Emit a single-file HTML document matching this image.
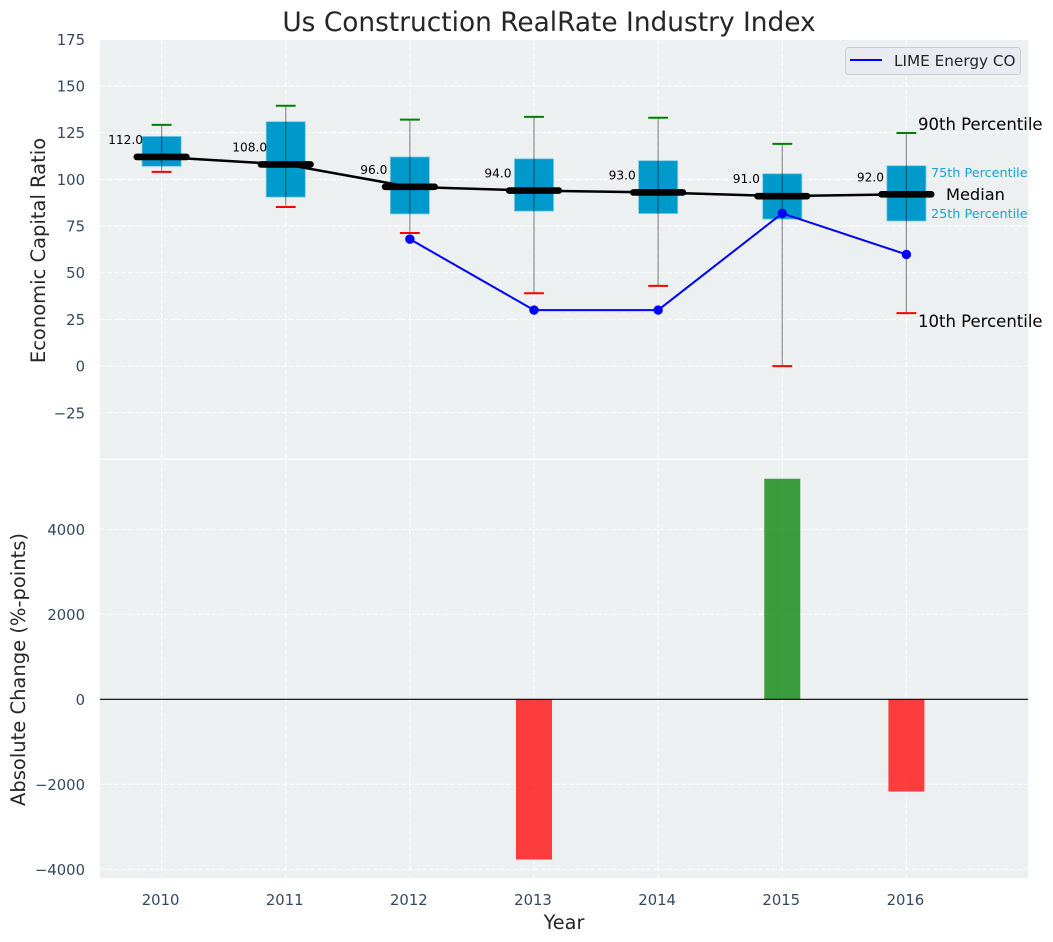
<!DOCTYPE html>
<html lang="en">
<head>
<meta charset="utf-8">
<title>Us Construction RealRate Industry Index</title>
<style>
html,body{margin:0;padding:0;background:#fff;}
svg{display:block;font-family:"DejaVu Sans","Liberation Sans",sans-serif;}
</style>
</head>
<body>
<svg id="chart" xmlns="http://www.w3.org/2000/svg" width="1053" height="942" viewBox="0 0 1053 942">
  <rect x="100" y="40" width="928" height="418.5" fill="#ECF0F1"/>
  <rect x="100" y="460" width="928" height="418" fill="#ECF0F1"/>
  <g id="grid"></g>
  <g id="marks"></g>
  <g id="ticks" font-size="14.8" fill="#34495E"></g>
  <text x="549" y="31" font-size="26.4" fill="#262626" text-anchor="middle">Us Construction RealRate Industry Index</text>
  <text transform="translate(45,250.5) rotate(-90)" font-size="19.5" fill="#262626" text-anchor="middle">Economic Capital Ratio</text>
  <text transform="translate(25,669.5) rotate(-90)" font-size="19.5" fill="#262626" text-anchor="middle">Absolute Change (%-points)</text>
  <text x="564" y="929" font-size="19.3" fill="#262626" text-anchor="middle">Year</text>
  <g>
    <rect x="845.5" y="47.5" width="175" height="27" rx="3" fill="#EAEAF2" stroke="#CCCCCC" stroke-width="1"/>
    <line x1="850" y1="60" x2="882" y2="60" stroke="#0000FF" stroke-width="2"/>
    <text x="894" y="66" font-size="15.25" fill="#262626">LIME Energy CO</text>
  </g>
  <g>
    <text x="918" y="130" font-size="16.5" fill="#000">90th Percentile</text>
    <text x="931" y="177" font-size="12.8" fill="#1AA3D1">75th Percentile</text>
    <text x="946" y="200" font-size="16.2" fill="#000">Median</text>
    <text x="931" y="218" font-size="12.8" fill="#1AA3D1">25th Percentile</text>
    <text x="918" y="327" font-size="16.5" fill="#000">10th Percentile</text>
  </g>
</svg>
<script>
const years = [2010, 2011, 2012, 2013, 2014, 2015, 2016];
const p90 = [129.2, 139.4, 132, 133.5, 133, 119, 124.8];
const p75 = [123, 130.9, 112, 111, 110, 103, 107.3];
const median = [112, 108, 96, 94, 93, 91, 92];
const p25 = [107, 90.5, 81.5, 83, 81.7, 78.7, 77.7];
const p10 = [104, 85.2, 71.3, 39, 43, 0, 28.4];
const limeYears = [2012, 2013, 2014, 2015, 2016];
const limeValues = [68, 30, 30, 81.8, 59.8];
const changeYears = [2013, 2015, 2016];
const changeValues = [-3770, 5190, -2170];
const topTicks = [-25, 0, 25, 50, 75, 100, 125, 150, 175];
const bottomTicks = [-4000, -2000, 0, 2000, 4000];

const NS = 'http://www.w3.org/2000/svg';
function linear(d0, d1, r0, r1) {
  return function (v) { return r0 + (v - d0) * (r1 - r0) / (d1 - d0); };
}
const xScale = linear(2010, 2016, 161.6, 906.4);
const yTop = linear(-25, 150, 412.8, 86);
const yBottom = linear(-4000, 4000, 869.3, 529.3);
const yearPx = xScale(2011) - xScale(2010);

function make(parent, tag, attrs, text) {
  const el = document.createElementNS(NS, tag);
  for (const k in attrs) el.setAttribute(k, attrs[k]);
  if (text !== undefined) el.textContent = text;
  parent.appendChild(el);
  return el;
}
function fmtTick(v) {
  return v < 0 ? '\u2212' + Math.abs(v) : String(v);
}

const grid = document.getElementById('grid');
const marks = document.getElementById('marks');
const ticks = document.getElementById('ticks');
const gridStyle = { stroke: '#FFFFFF', 'stroke-width': 1, 'stroke-dasharray': '5 2', 'stroke-opacity': 0.85 };

years.forEach(function (yr) {
  const x = xScale(yr);
  const a = make(grid, 'line', Object.assign({ x1: x, x2: x, y1: 40, y2: 458.5 }, gridStyle));
  
  
  const b = make(grid, 'line', Object.assign({ x1: x, x2: x, y1: 460, y2: 878 }, gridStyle));
  
  
  const t = make(ticks, 'text', { x: x - 1, y: 905, 'text-anchor': 'middle' }, String(yr));
  
  
});

topTicks.forEach(function (v) {
  const y = yTop(v);
  const g = make(grid, 'line', Object.assign({ x1: 100, x2: 1028, y1: y, y2: y }, gridStyle));
  
  
  const t = make(ticks, 'text', { x: 85, y: y + 5.5, 'text-anchor': 'end' }, fmtTick(v));
  
  
});

bottomTicks.forEach(function (v) {
  const y = yBottom(v);
  const g = make(grid, 'line', Object.assign({ x1: 100, x2: 1028, y1: y, y2: y }, gridStyle));
  
  
  const t = make(ticks, 'text', { x: 85, y: y + 5.5, 'text-anchor': 'end' }, fmtTick(v));
  
  
});

/* interquartile boxes */
years.forEach(function (yr, i) {
  const x = xScale(yr);
  const w = yearPx * 0.315;
  const box = make(marks, 'rect', {
    x: x - w / 2, y: yTop(p75[i]), width: w, height: yTop(p25[i]) - yTop(p75[i]),
    fill: '#0099CC', stroke: '#7CC9E3', 'stroke-width': 0.8
  });
  
  
});

/* whiskers and caps */
years.forEach(function (yr, i) {
  const x = xScale(yr);
  const capHalf = yearPx * 0.08;
  const w = make(marks, 'line', { x1: x, x2: x, y1: yTop(p90[i]), y2: yTop(p10[i]), stroke: '#000', 'stroke-opacity': 0.42, 'stroke-width': 1.2 });
  
  
  const hi = make(marks, 'line', { x1: x - capHalf, x2: x + capHalf, y1: yTop(p90[i]), y2: yTop(p90[i]), stroke: '#008000', 'stroke-width': 2 });
  
  
  const lo = make(marks, 'line', { x1: x - capHalf, x2: x + capHalf, y1: yTop(p10[i]), y2: yTop(p10[i]), stroke: '#FF0000', 'stroke-width': 2 });
  
  
});

/* median trend line */
const medianPath = make(marks, 'polyline', {
  points: years.map(function (yr, i) { return xScale(yr) + ',' + yTop(median[i]); }).join(' '),
  fill: 'none', stroke: '#000', 'stroke-width': 2.5
});



years.forEach(function (yr, i) {
  const x = xScale(yr);
  const y = yTop(median[i]);
  const half = yearPx * 0.2;
  const m = make(marks, 'line', { x1: x - half, x2: x + half, y1: y, y2: y, stroke: '#000', 'stroke-width': 6.6, 'stroke-linecap': 'round' });
  
  
  const t = make(marks, 'text', { x: x - 36, y: y - 13, 'font-size': 12.2, fill: '#000', 'text-anchor': 'middle' }, median[i].toFixed(1));
  
  
});

/* LIME Energy series */
const limePath = make(marks, 'polyline', {
  points: limeYears.map(function (yr, i) { return xScale(yr) + ',' + yTop(limeValues[i]); }).join(' '),
  fill: 'none', stroke: '#0000FF', 'stroke-width': 2
});



limeYears.forEach(function (yr, i) {
  const c = make(marks, 'circle', { cx: xScale(yr), cy: yTop(limeValues[i]), r: 4.7, fill: '#0000FF' });
  
  
});

/* absolute change bars */
changeYears.forEach(function (yr, i) {
  const v = changeValues[i];
  const w = yearPx * 0.29;
  const y0 = yBottom(0);
  const y1 = yBottom(v);
  const bar = make(marks, 'rect', {
    x: xScale(yr) - w / 2, y: Math.min(y0, y1), width: w, height: Math.abs(y1 - y0),
    fill: v >= 0 ? '#008000' : '#FF0000', 'fill-opacity': 0.75
  });
  
  
});

const zero = make(marks, 'line', { x1: 100, x2: 1028, y1: yBottom(0), y2: yBottom(0), stroke: '#000', 'stroke-width': 1.2 });


</script>
</body>
</html>
